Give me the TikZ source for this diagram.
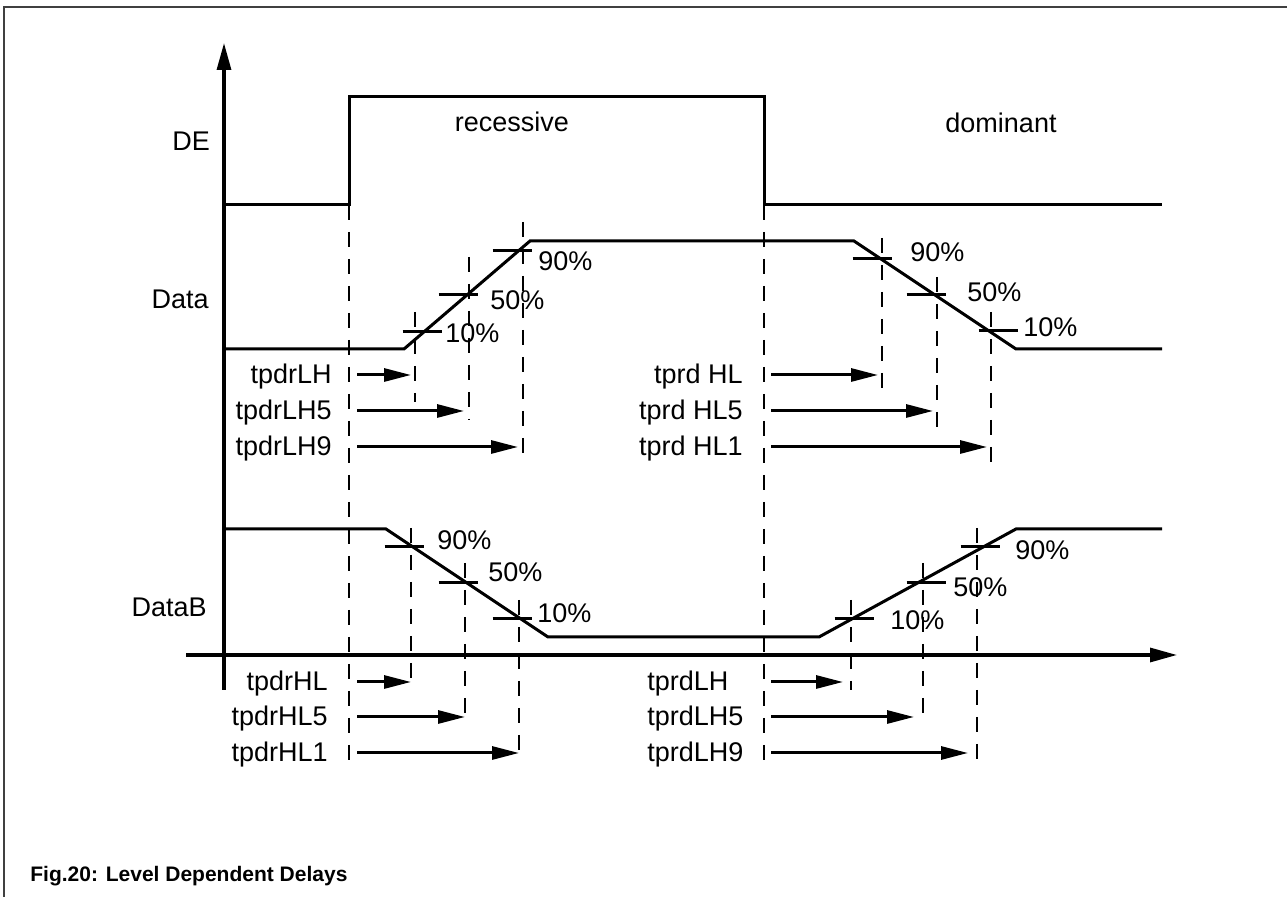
\documentclass[tikz,border=0pt]{standalone}
\usepackage{fontspec}
\setmainfont{Liberation Sans}
\usetikzlibrary{arrows.meta}

\tikzset{
  sig/.style={line width=1.5pt, line join=miter},
  axis/.style={line width=1.6pt, -{Triangle[length=13.5pt, width=7pt]}},
  guide/.style={line width=0.9pt, dash pattern=on 7.5pt off 6pt},
  tickmark/.style={line width=1.5pt},
  delay/.style={line width=1.5pt, -{Triangle[length=13.5pt, width=6.5pt]}},
  lbl/.style={font=\fontsize{13.5}{16}\selectfont, inner sep=0pt},
}

\begin{document}
\begin{tikzpicture}[x=0.5pt, y=-0.5pt]
\useasboundingbox (0,0) rectangle (1287,897);

% frame
\draw[line width=1pt, black!75] (4,897) -- (4,7) -- (1287,7);

% axes
\coordinate (o1) at (224,690);
\coordinate (o2) at (224,43);
\coordinate (o3) at (186,655);
\coordinate (o4) at (1177,655);
\draw[axis] (o1) -- (o2);
\draw[axis] (o3) -- (o4);

% guide lines
\foreach \x/\ya/\yb in {349/205/760, 764/205/760,
  415/312/402, 469/257/420, 523/222/457,
  882/238/400, 937/277/437, 991/312/473,
  411/528/690, 465/563/725, 519/600/762,
  851/600/690, 923/563/725, 977/528/762}
  \draw[guide] (\x,\ya) -- (\x,\yb);

% signals
\draw[sig] (224,205) -- (349,205) -- (349,97) -- (764,97) -- (764,205) -- (1162,205);
\draw[sig] (224,349) -- (404,349) -- (530,241) -- (854,241) -- (1016,349) -- (1162,349);
\draw[sig] (224,529) -- (386,529) -- (548,637) -- (819,637) -- (1016,529) -- (1162,529);

% level marks
\foreach \x/\y in {422/332, 458/295, 512/251, 872/259, 926/295, 998/331,
  404/547, 458/583, 512/619, 854/619, 926/583, 980/547}
  \draw[tickmark] (\x-19.5,\y) -- (\x+19.5,\y);

% signal names
\node[lbl, anchor=base west] (de) at (172,151) {DE};
\node[lbl, anchor=base east] (data) at (209,309) {Data};
\node[lbl, anchor=base east] (datab) at (207,617) {DataB};
\node[lbl, anchor=base] (rec) at (512,132) {recessive};
\node[lbl, anchor=base] (dom) at (1001,133) {dominant};

% levels
\foreach \n/\x/\y/\t in {ra1/445/343/10, ra5/490/310/50, ra9/538/271/90,
  fa9/910/262/90, fa5/967/302/50, fa1/1023/337/10,
  fb9/437/550/90, fb5/488/582/50, fb1/537/623/10,
  rb1/890/630/10, rb5/953/597/50, rb9/1015/560/90}
  \node[lbl, anchor=base west] (\n) at (\x,\y) {\t\%};

% delay names
\foreach \n/\x/\y/\t in {lh1/332/375/tpdrLH, lh5/332/411/tpdrLH5, lh9/332/447/tpdrLH9,
  hl9/743/375/tprd HL, hl5/743/411/tprd HL5, hl1/743/447/tprd HL1,
  dh9/328/682/tpdrHL, dh5/328/717/tpdrHL5, dh1/328/753/tpdrHL1}
  \node[lbl, anchor=base east] (\n) at (\x,\y+8.5) {\t};
\foreach \n/\x/\y/\t in {dl1/647/682/tprdLH, dl5/647/717/tprdLH5, dl9/647/753/tprdLH9}
  \node[lbl, anchor=base west] (\n) at (\x,\y+8.5) {\t};

% delays
\foreach \n/\xa/\xb/\y in {a1/357/411/375, a2/357/464/411, a3/357/518/447,
  b1/771/878/375, b2/771/933/411, b3/771/987/447,
  c1/357/411/682, c2/357/465/717, c3/357/519/753,
  d1/771/843/682, d2/771/914/717, d3/771/968/753}
{
  \coordinate (\n s) at (\xa,\y);
  \coordinate (\n e) at (\xb,\y);
  \draw[delay] (\n s) -- (\n e);
}

% caption
\node[anchor=base west, inner sep=0pt, font=\bfseries\fontsize{10.5}{12}\selectfont] (cap) at (30,882)
  {Fig.20: Level Dependent Delays};

\end{tikzpicture}
\end{document}
